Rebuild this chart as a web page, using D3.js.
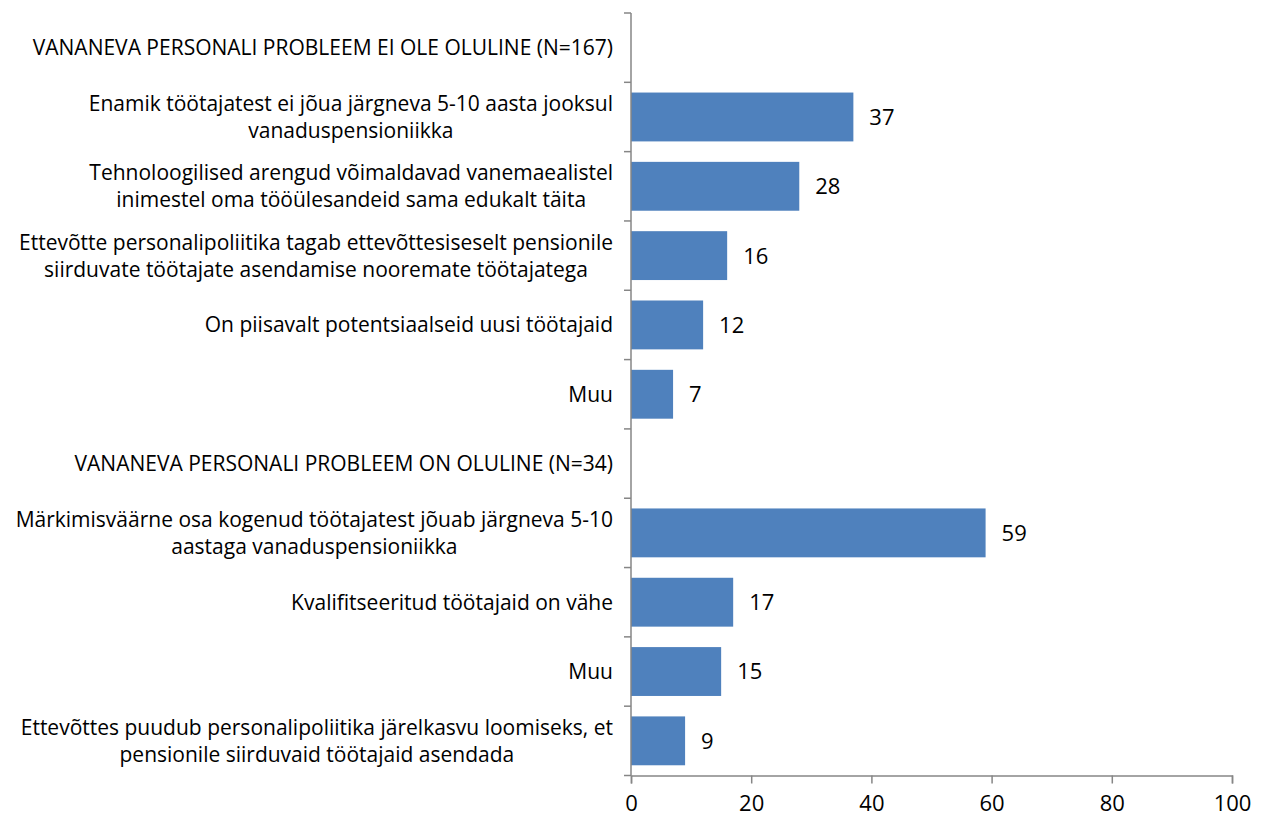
<!DOCTYPE html>
<html><head><meta charset="utf-8">
<script src="https://cdn.jsdelivr.net/npm/d3@7"></script>
<style>body{margin:0;background:#fff;}svg{display:block;}text{font-family:"Open Sans",sans-serif;fill:#000;}</style>
</head><body><svg id="c" width="1265" height="819"></svg>
<script>
const categories = [
  "VANANEVA PERSONALI PROBLEEM EI OLE OLULINE (N=167)",
  "Enamik töötajatest ei jõua järgneva 5-10 aasta jooksul\nvanaduspensioniikka",
  "Tehnoloogilised arengud võimaldavad vanemaealistel\ninimestel oma tööülesandeid sama edukalt täita",
  "Ettevõtte personalipoliitika tagab ettevõttesiseselt pensionile\nsiirduvate töötajate asendamise nooremate töötajatega",
  "On piisavalt potentsiaalseid uusi töötajaid",
  "Muu",
  "VANANEVA PERSONALI PROBLEEM ON OLULINE (N=34)",
  "Märkimisväärne osa kogenud töötajatest jõuab järgneva 5-10\naastaga vanaduspensioniikka",
  "Kvalifitseeritud töötajaid on vähe",
  "Muu",
  "Ettevõttes puudub personalipoliitika järelkasvu loomiseks, et\npensionile siirduvaid töötajaid asendada"
];
const values = [null, 37, 28, 16, 12, 7, null, 59, 17, 15, 9];
const xTicks = [0, 20, 40, 60, 80, 100];

const svg = d3.select("#c");
const top0 = 13, bottom0 = 775.5;
const x = d3.scaleLinear().domain([0, 100]).range([631, 1232]);
const y = d3.scaleBand().domain(d3.range(categories.length)).range([top0, bottom0]).paddingInner(0.295).paddingOuter(0.1475);
const axisColor = "#868686";

// bars
svg.selectAll("rect.bar").data(values.map((v,i)=>({v,i})).filter(d=>d.v!==null))
  .enter().append("rect").attr("class","bar")
  .attr("x", x(0)).attr("y", d=>y(d.i)).attr("width", d=>x(d.v)-x(0)).attr("height", y.bandwidth())
  .attr("fill","#4F81BD");

// value labels
svg.selectAll("text.val").data(values.map((v,i)=>({v,i})).filter(d=>d.v!==null))
  .enter().append("text").attr("class","val")
  .attr("x", d=>x(d.v)+16).attr("y", d=>y(d.i)+y.bandwidth()/2).attr("dy","0.36em")
  .style("font-size","22px").text(d=>d.v);

// y axis
const step = y.step();
const yAxisG = svg.append("g");
yAxisG.append("line").attr("x1",x(0)).attr("x2",x(0)).attr("y1",top0).attr("y2",bottom0).attr("stroke",axisColor).attr("stroke-width",1.5);
d3.range(categories.length+1).forEach(i=>{
  const yy = top0 + i*step;
  yAxisG.append("line").attr("x1",x(0)-7).attr("x2",x(0)).attr("y1",yy).attr("y2",yy).attr("stroke",axisColor).attr("stroke-width",1.5);
});

// category labels
const rightEdge = 613;
categories.forEach((c,i)=>{
  const lines = c.split("\n");
  const cy = top0 + i*step + step/2;
  const lh = 27;
  const g = svg.append("g");
  const texts = lines.map((l,j)=> g.append("text").style("font-size","21px")
    .attr("y", cy + (j-(lines.length-1)/2)*lh).attr("dy","0.36em").attr("text-anchor","middle").text(l));
  const maxW = d3.max(texts, t=>t.node().getComputedTextLength());
  texts.forEach(t=>t.attr("x", rightEdge - maxW/2));
});

// x axis
const xAxis = d3.axisBottom(x).tickValues(xTicks).tickSize(8).tickPadding(12);
const xg = svg.append("g").attr("transform",`translate(0,${bottom0})`).call(xAxis);
xg.select(".domain").attr("stroke",axisColor).attr("stroke-width",1.5);
xg.selectAll(".tick line").attr("stroke",axisColor).attr("stroke-width",1.5);
xg.selectAll(".tick text").style("font-size","22px").style("font-family","'Open Sans',sans-serif").attr("fill","#000");
</script></body></html>
